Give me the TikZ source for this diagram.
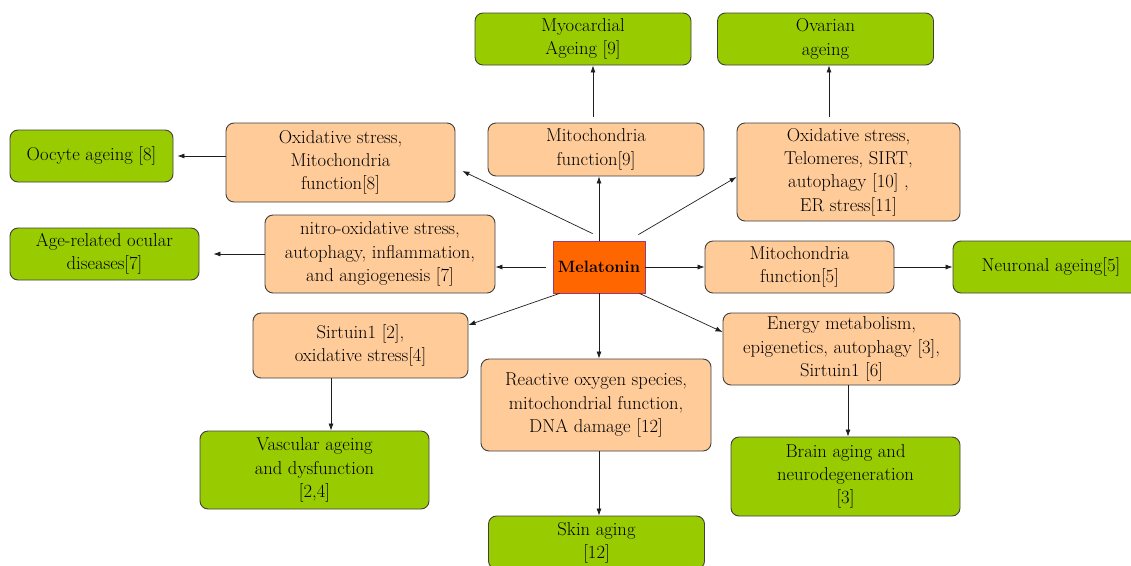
\documentclass[tikz,border=0pt]{standalone}
\usetikzlibrary{arrows.meta}
\definecolor{greenc}{RGB}{153,204,0}
\definecolor{peachc}{RGB}{255,204,153}
\definecolor{melc}{RGB}{255,102,0}
\definecolor{melborder}{RGB}{150,60,120}
\definecolor{bordc}{RGB}{64,64,64}
\definecolor{linec}{RGB}{30,30,30}
\newcommand{\fs}{\rmfamily\fontsize{18.6}{23.3}\selectfont}
\tikzset{
  base/.style={draw=bordc, line width=0.9pt, rounded corners=8pt, align=center, inner sep=0pt, font=\fs},
  greenbox/.style={base, fill=greenc},
  peachbox/.style={base, fill=peachc},
  melbox/.style={draw=melborder, line width=0.8pt, fill=melc, inner sep=0pt, font=\rmfamily\fontsize{16.4}{20}\selectfont\bfseries},
  arr/.style={-{Latex[length=7pt,width=5pt]}, line width=0.7pt, draw=linec},
}
\begin{document}
\begin{tikzpicture}[x=1pt,y=-1pt]
\useasboundingbox (0,0) rectangle (1131,565);
% green outcome boxes
\node[greenbox, minimum width=216pt, minimum height=52pt] (my) at (583,39) {Myocardial\\Ageing [9]};
\node[greenbox, minimum width=216pt, minimum height=52pt] (ov) at (825.5,39) {Ovarian\\ageing};
\node[greenbox, minimum width=163pt, minimum height=52pt] (oo) at (91.5,156) {Oocyte ageing [8]};
\node[greenbox, minimum width=189pt, minimum height=52pt] (oc) at (104.5,254) {Age-related ocular\\diseases[7]};
\node[greenbox, minimum width=196pt, minimum height=52pt] (ne) at (1051,267) {Neuronal ageing[5]};
\node[greenbox, minimum width=229pt, minimum height=78pt] (va) at (314.5,470) {Vascular ageing\\and dysfunction\\{}[2,4]};
\node[greenbox, minimum width=216pt, minimum height=53pt] (sk) at (596.5,542.5) {Skin aging\\{}[12]};
\node[greenbox, minimum width=229pt, minimum height=79pt] (br) at (845.5,476.5) {Brain aging and\\neurodegeneration\\{}[3]};
% peach mechanism boxes
\node[peachbox, minimum width=229pt, minimum height=79pt] (A) at (340.5,162.5) {Oxidative stress,\\Mitochondria\\function[8]};
\node[peachbox, minimum width=216pt, minimum height=53pt] (B) at (596,149.5) {Mitochondria\\function[9]};
\node[peachbox, minimum width=223pt, minimum height=98pt] (C) at (848.5,172) {Oxidative stress,\\Telomeres, SIRT,\\autophagy [10] ,\\ER stress[11]};
\node[peachbox, minimum width=230pt, minimum height=78pt] (D) at (380,254) {nitro-oxidative stress,\\autophagy, inflammation,\\and angiogenesis [7]};
\node[peachbox, minimum width=189pt, minimum height=52pt] (E) at (799.5,267) {Mitochondria\\function[5]};
\node[peachbox, minimum width=215pt, minimum height=65pt] (F) at (360.5,345.5) {Sirtuin1 [2],\\oxidative stress[4]};
\node[peachbox, minimum width=230pt, minimum height=92pt] (G) at (596,405) {Reactive oxygen species,\\mitochondrial function,\\DNA damage [12]};
\node[peachbox, minimum width=237pt, minimum height=72pt] (H) at (841.5,349) {Energy metabolism,\\epigenetics, autophagy [3],\\Sirtuin1 [6]};
% centre
\node[melbox, minimum width=92pt, minimum height=52pt] (mel) at (599,267) {Melatonin};
% melatonin to mechanisms
\draw[arr] ([xshift=40pt,yshift=7pt]mel.north west) -- ([xshift=7pt,yshift=-8.5pt]A.east);
\draw[arr] (mel.north) -- (mel.north |- B.south);
\draw[arr] ([xshift=-7pt,yshift=6pt]mel.north east) -- ([yshift=-5pt]C.west);
\draw[arr] ([xshift=-7pt]mel.west) -- (mel.west -| D.east);
\draw[arr] (mel.east) -- (mel.east -| E.west);
\draw[arr] ([xshift=7pt]mel.south west) -- ([yshift=20.5pt]F.east);
\draw[arr] (mel.south) -- (mel.south |- G.north);
\draw[arr] ([xshift=-6pt]mel.south east) -- ([yshift=17pt]H.west);
% mechanisms to outcomes
\draw[arr] ([xshift=-3pt,yshift=6pt]B.north) -- ([xshift=10pt]my.south);
\draw[arr] ([xshift=-19.5pt,yshift=6pt]C.north) -- ([xshift=3.5pt]ov.south);
\draw[arr] ([yshift=6.5pt]A.west) -- ([xshift=4pt]oo.east);
\draw[arr] (D.west) -- ([xshift=14pt]oc.east);
\draw[arr] (E.east) -- (ne.west);
\draw[arr] ([xshift=-29.5pt]F.south) -- ([xshift=16.5pt]va.north);
\draw[arr] ([xshift=3pt]G.south) -- ([xshift=2.5pt]sk.north);
\draw[arr] ([xshift=6.5pt]H.south) -- ([xshift=2.5pt]br.north);
\end{tikzpicture}
\end{document}
